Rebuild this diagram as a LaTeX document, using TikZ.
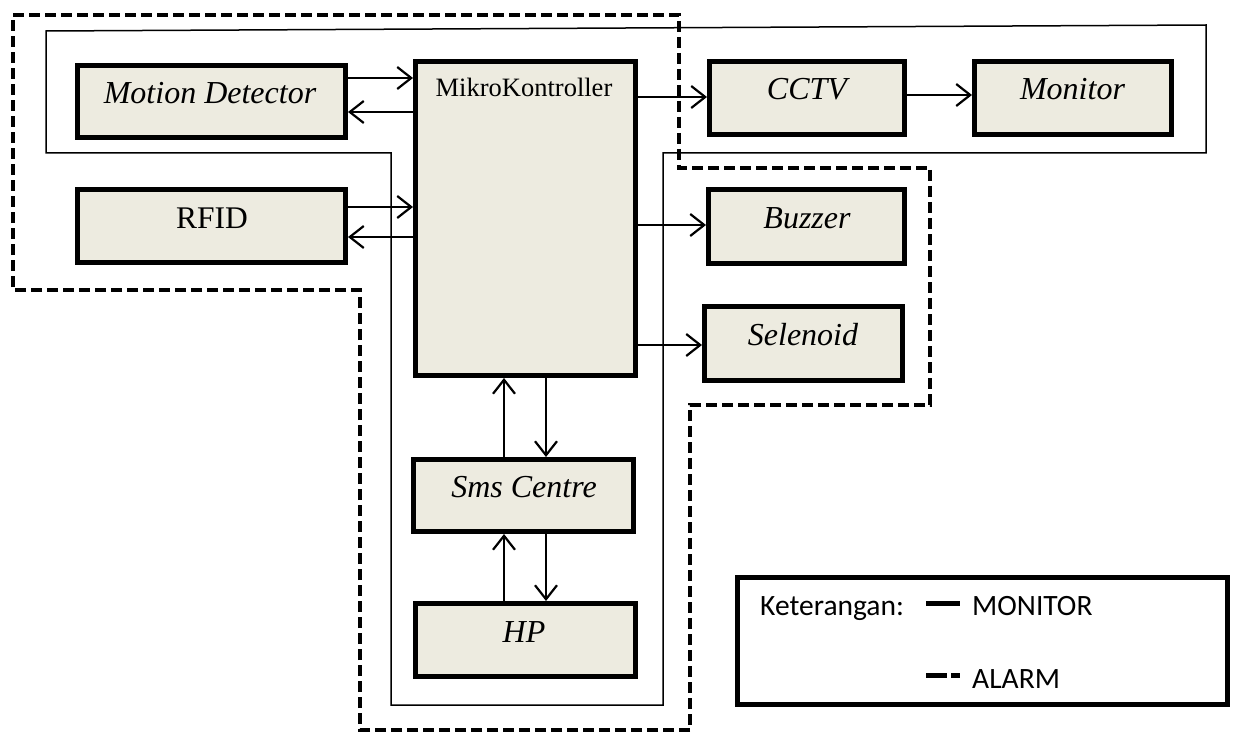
\documentclass[tikz,border=0pt]{standalone}
\usepackage{fontspec}
\setmainfont{Liberation Serif}
\newfontfamily\legendfont{Carlito}
\usetikzlibrary{arrows.meta}
\definecolor{boxfill}{RGB}{237,235,224}
\begin{document}
\begin{tikzpicture}[x=1pt,y=-1pt,
  blk/.style={draw, line width=5pt, fill=boxfill, inner sep=0pt},
  lbl/.style={anchor=base, inner sep=0pt, font=\fontsize{32}{37}\selectfont\itshape},
  arr/.style={line width=2.2pt, -{Straight Barb[length=14pt,width=22pt]}},
  alarmline/.style={line width=3.3pt, dash pattern=on 11pt off 5pt},
  monline/.style={line width=1.5pt},
  legtxt/.style={anchor=base west, inner sep=0pt, font=\legendfont\fontsize{29.5}{35}\selectfont},
]
\useasboundingbox (0,0) rectangle (1235,733);

% group outlines: solid = monitoring path, dashed = alarm path
\draw[monline] (46,31) -- (1206,25) -- (1206,153) -- (663,153) -- (663,705)
  -- (391,705) -- (391,153) -- (46,153) -- cycle;
\draw[alarmline] (13,15) -- (679,15) -- (679,168) -- (930,168) -- (930,405)
  -- (690,405) -- (690,730) -- (360,730) -- (360,290) -- (13,290) -- cycle;

% blocks
\node[blk, minimum width=268pt, minimum height=72pt] (md)   at (211.5,101.5) {};
\node[blk, minimum width=268pt, minimum height=73pt] (rfid) at (211.5,226) {};
\node[blk, minimum width=220pt, minimum height=314pt] (mk)  at (525.5,218.5) {};
\node[blk, minimum width=195pt, minimum height=73pt] (cctv) at (807,98) {};
\node[blk, minimum width=197pt, minimum height=73pt] (mon)  at (1073,98) {};
\node[blk, minimum width=196pt, minimum height=74pt] (buz)  at (806.5,226.5) {};
\node[blk, minimum width=198pt, minimum height=74pt] (sel)  at (803.5,343.5) {};
\node[blk, minimum width=220pt, minimum height=72pt] (sms)  at (523.5,495.5) {};
\node[blk, minimum width=220pt, minimum height=73pt] (hp)   at (525.5,640) {};

% block labels
\node[lbl] (mdt)   at (210,104) {Motion Detector};
\node[lbl, font=\fontsize{31.5}{36}\selectfont] (rfidt) at (212,229) {RFID};
\node[lbl, font=\fontsize{26.5}{31}\selectfont] (mkt) at (524,97) {MikroKontroller};
\node[lbl] (cctvt) at (807,100) {CCTV};
\node[lbl] (mont)  at (1072.5,100) {Monitor};
\node[lbl] (buzt)  at (807,229) {Buzzer};
\node[lbl] (selt)  at (803,345) {Selenoid};
\node[lbl] (smst)  at (524,497) {Sms Centre};
\node[lbl] (hpt)   at (524,642) {HP};

% connections
\draw[arr] (md.east |- 0,78)   -- (mk.west |- 0,78);
\draw[arr] (mk.west |- 0,112)  -- (md.east |- 0,112);
\draw[arr] (rfid.east |- 0,207) -- (mk.west |- 0,207);
\draw[arr] (mk.west |- 0,237)  -- (rfid.east |- 0,237);
\draw[arr] (mk.east |- 0,97)   -- (cctv.west |- 0,97);
\draw[arr] (cctv.east |- 0,95) -- (mon.west |- 0,95);
\draw[arr] (mk.east |- 0,225)  -- (buz.west |- 0,225);
\draw[arr] (mk.east |- 0,345)  -- (sel.west |- 0,345);
\draw[arr] (sms.north -| 504,0) -- (mk.south -| 504,0);
\draw[arr] (mk.south -| 546,0)  -- (sms.north -| 546,0);
\draw[arr] (hp.north -| 504,0)  -- (sms.south -| 504,0);
\draw[arr] (sms.south -| 546,0) -- (hp.north -| 546,0);

% legend
\node[draw, line width=5pt, fill=white, minimum width=490pt, minimum height=127pt, inner sep=0pt] (leg) at (982.5,641) {};
\node[legtxt] (ket)  at (760,615) {Keterangan:};
\node[legtxt] (kmon) at (972,615) {MONITOR};
\node[legtxt] (kal)  at (972,688) {ALARM};
\draw[line width=5pt] (926,603) -- (960,603);
\draw[line width=5pt] (926,675) -- (947,675) (951,675) -- (960,675);
\end{tikzpicture}
\end{document}
